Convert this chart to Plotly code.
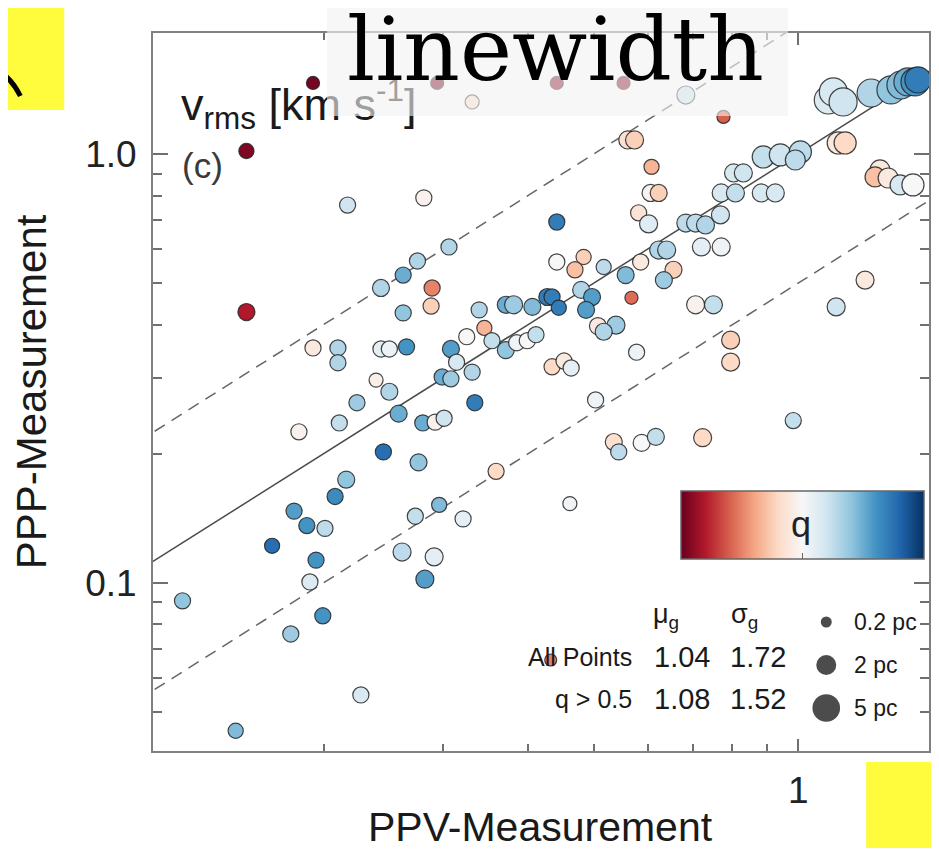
import plotly.graph_objects as go
import numpy as np

# ---------------- data ----------------
ppv = [0.193, 0.154, 0.154, 0.217, 0.193, 0.210, 0.210, 0.294, 0.331, 0.281,
       0.306, 0.275, 0.262, 0.243, 0.289, 0.288, 0.262, 0.339, 0.371, 0.381,
       0.406, 0.427, 0.345, 0.325, 0.354, 0.243, 0.250, 0.265, 0.308, 0.314,
       0.371, 0.385, 0.399, 0.411, 0.299, 0.308, 0.331, 0.239, 0.250, 0.224,
       0.258, 0.280, 0.292, 0.301, 0.334, 0.245, 0.276, 0.359, 0.296, 0.273,
       0.321, 0.261, 0.291, 0.282, 0.227, 0.184, 0.211, 0.216, 0.208, 0.181,
       0.189, 0.201, 0.168, 0.195, 0.191, 0.124, 0.1995, 0.179, 0.1485, 0.441,
       0.553, 0.683, 0.776, 0.561, 0.574, 0.608, 0.606, 0.623, 0.582, 0.602,
       0.441, 0.683, 0.706, 0.730, 0.768, 0.770, 0.808, 0.803, 0.830, 0.720,
       0.770, 0.623, 0.640, 0.586, 0.655, 0.634, 0.557, 0.517, 0.483, 0.441,
       0.469, 0.568, 0.479, 0.497, 0.434, 0.444, 0.487, 0.507, 0.539, 0.517,
       0.706, 0.750, 0.578, 0.434, 0.452, 0.463, 0.795, 0.795, 0.503, 0.535,
       0.544, 0.588, 0.617, 0.723, 0.461, 0.432, 0.983, 1.254, 1.137, 0.888,
       0.941, 1.007, 0.990, 0.882, 0.925, 1.145, 1.172, 1.319, 1.297, 1.356,
       1.412, 1.475,
       1.107, 1.126, 1.164, 1.280, 1.369, 1.416, 1.450, 1.485, 1.500]
ppp = [1.464, 1.016, 0.428, 0.760, 0.353, 0.353, 0.326, 1.464, 1.322, 0.790,
       0.607, 0.563, 0.522, 0.487, 0.487, 0.442, 0.426, 0.433, 0.445, 0.445,
       0.440, 0.464, 0.393, 0.375, 0.367, 0.351, 0.351, 0.355, 0.351, 0.327,
       0.349, 0.363, 0.367, 0.379, 0.302, 0.299, 0.310, 0.297, 0.279, 0.263,
       0.248, 0.236, 0.237, 0.242, 0.263, 0.202, 0.191, 0.182, 0.152, 0.143,
       0.141, 0.118, 0.115, 0.102, 0.0548, 0.225, 0.236, 0.174, 0.159, 0.147,
       0.136, 0.134, 0.122, 0.113, 0.1005, 0.0908, 0.0838, 0.0760, 0.0452, 1.464,
       1.464, 1.372, 1.220, 1.078, 1.078, 0.933, 0.811, 0.811, 0.729, 0.687,
       0.694, 0.690, 0.690, 0.683, 0.721, 0.811, 0.811, 0.903, 0.903, 0.607,
       0.607, 0.597, 0.597, 0.560, 0.537, 0.508, 0.522, 0.545, 0.575, 0.560,
       0.537, 0.462, 0.482, 0.464, 0.464, 0.438, 0.433, 0.397, 0.399, 0.385,
       0.445, 0.445, 0.345, 0.319, 0.329, 0.317, 0.368, 0.327, 0.267, 0.213,
       0.202, 0.212, 0.219, 0.218, 0.153, 0.0661, 0.239, 0.508, 0.440, 0.984,
       0.995, 1.011, 0.968, 0.811, 0.811, 1.061, 1.061, 0.918, 0.884, 0.879,
       0.847, 0.847,
       1.336, 1.395, 1.322, 1.387, 1.410, 1.448, 1.472, 1.472, 1.488]
q = [0.02, 0.03, 0.10, 0.60, 0.45, 0.65, 0.65, 0.02, 0.42, 0.48,
     0.65, 0.65, 0.75, 0.65, 0.25, 0.38, 0.70, 0.65, 0.75, 0.68,
     0.72, 0.85, 0.33, 0.50, 0.62, 0.55, 0.53, 0.80, 0.78, 0.58,
     0.70, 0.52, 0.50, 0.62, 0.75, 0.68, 0.65, 0.47, 0.65, 0.68,
     0.75, 0.75, 0.48, 0.60, 0.85, 0.88, 0.70, 0.40, 0.72, 0.62,
     0.55, 0.63, 0.55, 0.78, 0.58, 0.48, 0.62, 0.70, 0.82, 0.78,
     0.80, 0.63, 0.88, 0.80, 0.57, 0.70, 0.80, 0.68, 0.72, 0.05,
     0.05, 0.60, 0.20, 0.42, 0.38, 0.33, 0.48, 0.38, 0.43, 0.56,
     0.85, 0.63, 0.63, 0.65, 0.60, 0.58, 0.62, 0.58, 0.60, 0.55,
     0.52, 0.65, 0.65, 0.45, 0.38, 0.68, 0.72, 0.63, 0.38, 0.50,
     0.35, 0.22, 0.65, 0.78, 0.85, 0.85, 0.78, 0.45, 0.68, 0.65,
     0.48, 0.62, 0.53, 0.40, 0.45, 0.55, 0.38, 0.40, 0.52, 0.42,
     0.63, 0.50, 0.62, 0.40, 0.52, 0.25, 0.62, 0.45, 0.60, 0.62,
     0.60, 0.63, 0.63, 0.58, 0.58, 0.45, 0.40, 0.45, 0.35, 0.45,
     0.58, 0.50,
     0.57, 0.58, 0.60, 0.65, 0.70, 0.72, 0.75, 0.80, 0.85]
size_pc = [0.45, 0.8, 1.2, 1.0, 1.0, 1.0, 1.0, 0.45, 0.6, 1.0,
           1.0, 1.0, 1.0, 1.2, 1.0, 1.0, 1.0, 1.0, 1.2, 1.45,
           1.2, 1.2, 0.8, 1.0, 1.0, 1.0, 1.0, 1.0, 1.2, 1.0,
           1.2, 1.0, 1.0, 1.0, 1.0, 1.0, 1.0, 0.6, 1.2, 1.0,
           1.2, 1.0, 1.0, 1.0, 1.0, 1.0, 1.2, 1.0, 0.8, 1.0,
           1.0, 1.45, 1.45, 1.45, 1.0, 1.0, 1.0, 1.2, 1.0, 1.0,
           1.0, 1.0, 0.8, 1.0, 1.0, 1.0, 1.0, 1.0, 0.8, 0.45,
           0.45, 1.45, 0.45, 1.45, 1.45, 0.8, 1.2, 1.2, 1.0, 1.45,
           1.0, 1.45, 1.45, 1.45, 1.45, 1.45, 1.45, 1.45, 1.45, 1.45,
           1.45, 1.45, 1.45, 1.0, 1.2, 1.2, 1.2, 0.8, 0.8, 1.0,
           1.0, 0.45, 1.2, 1.2, 1.0, 0.8, 1.2, 1.2, 1.45, 1.2,
           1.45, 1.45, 1.0, 1.0, 1.0, 1.0, 1.45, 1.45, 1.0, 1.2,
           1.0, 1.2, 1.2, 1.45, 0.6, 0.3, 1.0, 1.45, 1.45, 2.7,
           2.7, 2.7, 2.0, 1.45, 1.45, 2.7, 2.7, 2.0, 2.0, 2.0,
           2.0, 2.7,
           5.2, 5.2, 5.2, 5.2, 5.2, 5.2, 5.2, 5.2, 4.3]

legend_pc = [0.2, 2, 5]
legend_pc_labels = ["0.2 pc", "2 pc", "5 pc"]
stat_rows = ["All Points", "q > 0.5"]
mu_g = ["1.04", "1.08"]
sigma_g = ["1.72", "1.52"]
ratio_lines = [1.0, 2.0, 0.5]

# ---------------- styling ----------------
FONT = "Liberation Sans"
RDBU = [[0.0, "rgb(103,0,31)"], [0.1, "rgb(178,24,43)"], [0.2, "rgb(214,96,77)"],
        [0.3, "rgb(244,165,130)"], [0.4, "rgb(253,219,199)"], [0.5, "rgb(247,247,247)"],
        [0.6, "rgb(209,229,240)"], [0.7, "rgb(146,197,222)"], [0.8, "rgb(67,147,195)"],
        [0.9, "rgb(33,102,172)"], [1.0, "rgb(5,48,97)"]]

# page has an 8px body margin; the figure is sized so no scrollbars appear
W, H = 923, 840
ML, MR, MT, MB = 145, 0, 25, 97
PW, PH = W - ML - MR, H - MT - MB          # 778 x 718
SX0, SY1 = 153, 751                         # plot-area left / bottom in page pixels
XR = [-0.950, 0.1924]
YR = [-1.392, 0.282]


def psx(x):  # page pixel -> paper
    return (x - SX0) / PW


def psy(y):
    return (SY1 - y) / PH


def dx(x):  # page pixel -> data (log axis)
    return 10 ** (XR[0] + (x - SX0) / PW * (XR[1] - XR[0]))


def dy(y):
    return 10 ** (YR[0] + (SY1 - y) / PH * (YR[1] - YR[0]))


def diam(pc):
    return 6.84 + 9.3 * np.sqrt(np.asarray(pc, dtype=float))


fig = go.Figure()

# reference lines y = k x
xl = [0.08, 2.5]
for k in ratio_lines:
    fig.add_trace(go.Scatter(
        x=xl, y=[k * v for v in xl], mode="lines", hoverinfo="skip", showlegend=False,
        line=dict(color="#4a4a4a" if k == 1 else "#666666", width=1.5,
                  dash="solid" if k == 1 else "12px,8px")))

# data points
fig.add_trace(go.Scatter(
    x=ppv, y=ppp, mode="markers", showlegend=False, cliponaxis=False,
    marker=dict(color=q, colorscale=RDBU, cmin=0, cmax=1, size=diam(size_pc),
                line=dict(color="rgba(35,35,35,0.85)", width=1.2), opacity=1,
                showscale=True,
                colorbar=dict(orientation="h", x=psx(682), xanchor="left", y=psy(491),
                              yanchor="top", lenmode="pixels", len=243,
                              thicknessmode="pixels", thickness=68, xpad=0, ypad=0,
                              outlinewidth=1.5, outlinecolor="#666666",
                              tickvals=[0.5], ticktext=[""], ticks="inside",
                              ticklen=6, tickcolor="#666666", showticklabels=False))))

# size legend markers
leg_y = [622, 665, 708]
fig.add_trace(go.Scatter(
    x=[dx(828)] * 3, y=[dy(v) for v in leg_y], mode="markers", showlegend=False,
    hoverinfo="skip", marker=dict(color="black", size=diam(legend_pc), line=dict(width=0))))

ann = []


def A(text, x, y, size, xanchor="center", yanchor="middle", color="#1a1a1a", family=FONT, **kw):
    ann.append(dict(text=text, x=psx(x), y=psy(y), xref="paper", yref="paper",
                    xanchor=xanchor, yanchor=yanchor, showarrow=False,
                    font=dict(family=family, size=size, color=color), **kw))


# axis titles
A("PPV-Measurement", 541, 827, 41)
A("PPP-Measurement", 31, 392, 42, textangle=-90)

# panel labels
A("v<sub>rms</sub> [km s<sup>-1</sup>]", 179, 104, 45, xanchor="left")
A("(c)", 180, 166, 35, xanchor="left", color="#3a3a3a")

# stats table
A("\u03bc<sub>g</sub>", 667, 616, 27)
A("\u03c3<sub>g</sub>", 746, 616, 27)
for i, lab in enumerate(stat_rows):
    yy = 657 + 42 * i
    A(lab, 635, yy, 25, xanchor="right")
    A(mu_g[i], 683, yy, 29)
    A(sigma_g[i], 760, yy, 29)
for i, lab in enumerate(legend_pc_labels):
    A(lab, 854, leg_y[i], 23, xanchor="left")

# colorbar label
A("q", 803, 524, 36, color="#222222")

# translucent grey label box and its text
ann.append(dict(text=" ", x=psx(327), y=psy(0), xref="paper", yref="paper",
                xanchor="left", yanchor="top", showarrow=False, width=461, height=116,
                borderpad=0, borderwidth=0, bgcolor="rgba(242,242,242,0.62)"))
A("linewidth", 557, 50, 88, family="DejaVu Serif", color="#000000")

shapes = [
    dict(type="line", xref="paper", yref="paper", x0=psx(803), x1=psx(803),
         y0=psy(491), y1=psy(497), line=dict(color="#666666", width=1.5)),
    dict(type="rect", xref="paper", yref="paper", x0=psx(0), x1=psx(64),
         y0=psy(0), y1=psy(110), fillcolor="#fffb3d", line=dict(width=0), layer="above"),
    dict(type="path", xref="paper", yref="paper",
         path=f"M {psx(0)},{psy(72)} Q {psx(12)},{psy(80)} {psx(20)},{psy(96)}",
         line=dict(color="black", width=5), layer="above"),
    dict(type="rect", xref="paper", yref="paper", x0=psx(868), x1=psx(945),
         y0=psy(762), y1=psy(860), fillcolor="#fffb3d", line=dict(width=0), layer="above"),
]

axis_common = dict(type="log", showline=True, linecolor="#808080", linewidth=2,
                   mirror="allticks", ticks="inside", tickcolor="#707070", tickwidth=1.5,
                   showgrid=False, zeroline=False,
                   tickfont=dict(family=FONT, size=37, color="#222222"))

fig.update_layout(
    width=W, height=H, margin=dict(l=ML, r=MR, t=MT, b=MB),
    plot_bgcolor="white", paper_bgcolor="white",
    xaxis=dict(range=XR, tickvals=[1], ticktext=["1"], ticklen=12,
               ticklabelstandoff=6,
               minor=dict(tickmode="array", tickvals=[0.2, 0.3, 0.4, 0.5, 0.6, 0.7, 0.8, 0.9],
                          ticks="inside", ticklen=7, tickcolor="#707070", tickwidth=1.5,
                          showgrid=False),
               **axis_common),
    yaxis=dict(range=YR, tickvals=[0.1, 1], ticktext=["0.1", "1.0"], ticklen=15,
               ticklabelstandoff=7,
               minor=dict(tickmode="array",
                          tickvals=[0.05, 0.06, 0.07, 0.08, 0.09, 0.2, 0.3, 0.4, 0.5,
                                    0.6, 0.7, 0.8, 0.9],
                          ticks="inside", ticklen=9, tickcolor="#707070", tickwidth=1.5,
                          showgrid=False),
               **axis_common),
    annotations=ann, shapes=shapes, showlegend=False,
)

fig.write_html("out.html")
